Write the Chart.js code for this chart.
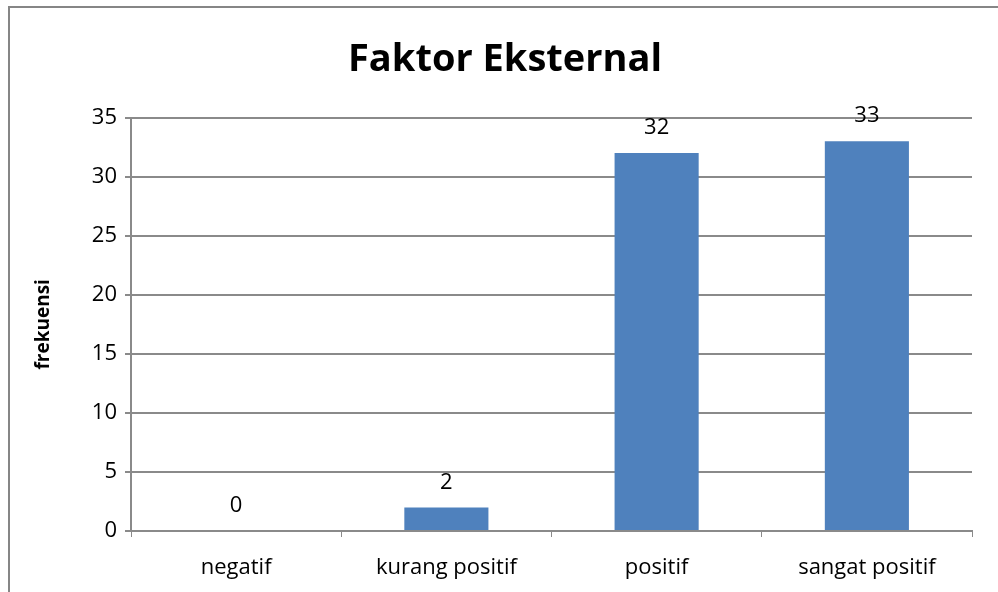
<!DOCTYPE html>
<html>
<head>
<meta charset="utf-8">
<script src="https://cdn.jsdelivr.net/npm/chart.js@4.4.0/dist/chart.umd.min.js"></script>
<style>
    html, body { margin: 0; padding: 0; background: #fff; }
    #wrap { position: relative; width: 998px; height: 592px; overflow: hidden; }
    #frame { position: absolute; left: 8px; top: 6px; width: 1200px; height: 800px;
             border-left: 2px solid #868686; border-top: 2px solid #868686; box-sizing: border-box; }
    canvas { position: absolute; left: 0; top: 0; }
</style>
</head>
<body>
<div id="wrap">
    <div id="frame"></div>
    <canvas id="chart" width="998" height="592"></canvas>
</div>
<script>
    // chart data
    const categories = ["negatif", "kurang positif", "positif", "sangat positif"];
    const frekuensi = [0, 2, 32, 33];
    const yTicks = [0, 5, 10, 15, 20, 25, 30, 35];

    const fontFamily = "'Open Sans', 'Noto Sans', sans-serif";
    const gridColor = "#8a8a8a";

    // value labels above the bars
    const valueLabels = {
        id: "valueLabels",
        afterDatasetsDraw(chart) {
            const ctx = chart.ctx;
            const meta = chart.getDatasetMeta(0);
            ctx.save();
            ctx.fillStyle = "#000";
            ctx.font = "22px " + fontFamily;
            ctx.textAlign = "center";
            ctx.textBaseline = "middle";
            meta.data.forEach((bar, i) => {
                ctx.fillText(String(frekuensi[i]), bar.x, bar.y - 25);
            });
            ctx.restore();
        }
    };

    new Chart(document.getElementById("chart"), {
        type: "bar",
        data: {
            labels: categories,
            datasets: [{
                label: "frekuensi",
                data: frekuensi,
                backgroundColor: "#4f81bd",
                borderWidth: 0,
                barPercentage: 0.4,
                categoryPercentage: 1.0
            }]
        },
        options: {
            responsive: false,
            animation: false,
            layout: { padding: { left: 38, right: 26, top: 0, bottom: 0 } },
            plugins: {
                legend: { display: false },
                tooltip: { enabled: false },
                title: {
                    display: true,
                    text: "Faktor Eksternal",
                    color: "#000",
                    font: { family: fontFamily, size: 38, weight: "bold", lineHeight: 1.2 },
                    padding: { top: 37, bottom: 35 }
                }
            },
            scales: {
                x: {
                    grid: {
                        offset: true,
                        drawOnChartArea: false,
                        drawTicks: true,
                        tickLength: 6,
                        color: gridColor
                    },
                    border: { color: gridColor, width: 2 },
                    ticks: {
                        color: "#000",
                        font: { family: fontFamily, size: 22 },
                        padding: 18,
                        maxRotation: 0
                    },
                    afterFit(scale) { scale.height = 61; }
                },
                y: {
                    min: 0,
                    max: 35,
                    afterBuildTicks(scale) { scale.ticks = yTicks.map(v => ({ value: v })); },
                    grid: { color: gridColor, lineWidth: 2, tickLength: 6 },
                    border: { color: gridColor, width: 2 },
                    ticks: {
                        color: "#000",
                        font: { family: fontFamily, size: 22 },
                        padding: 8
                    },
                    title: {
                        display: true,
                        text: "frekuensi",
                        color: "#000",
                        font: { family: fontFamily, size: 19, weight: "bold", lineHeight: 1.2 },
                        padding: { top: -6, bottom: 0 }
                    },
                    afterFit(scale) { scale.width = 93; }
                }
            }
        },
        plugins: [valueLabels]
    });
</script>
</body>
</html>
